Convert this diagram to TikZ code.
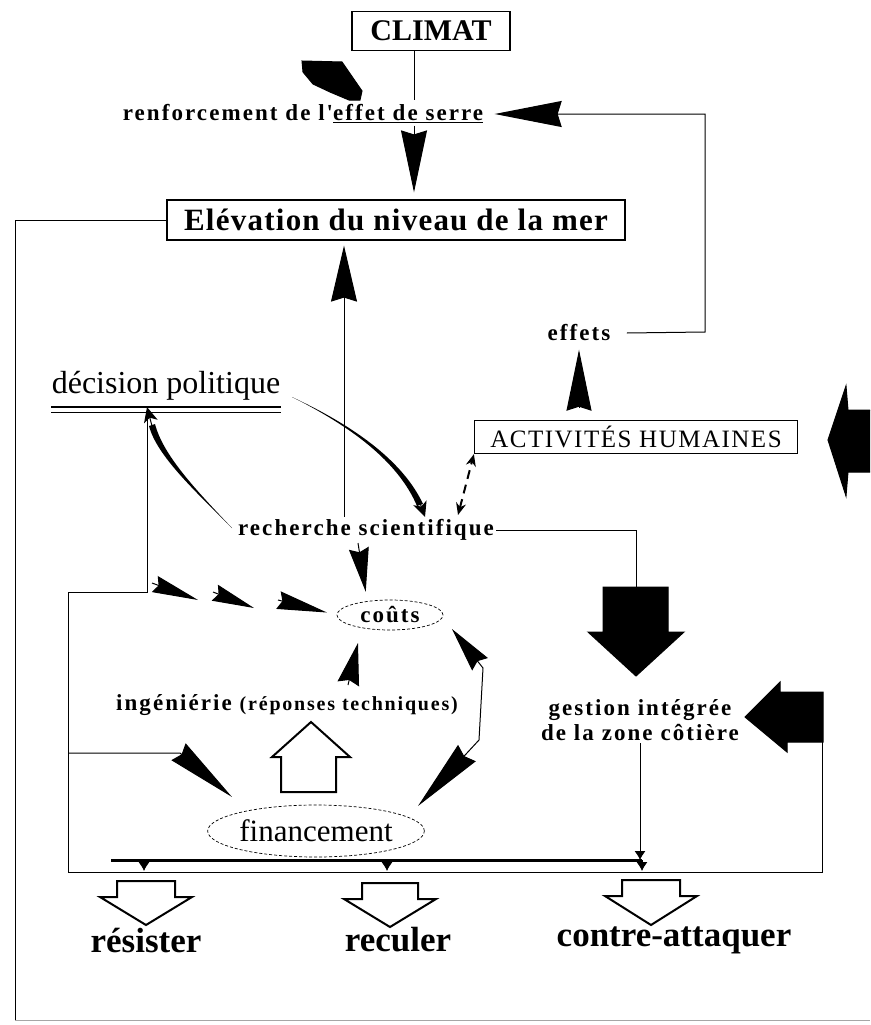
\documentclass[tikz,border=0pt]{standalone}
\usepackage{fontspec}
\setmainfont{Liberation Serif}
\newfontfamily\slabfont{Liberation Serif}[LetterSpace=9]
\newfontfamily\capsfont{Liberation Serif}[LetterSpace=6]
\usetikzlibrary{arrows.meta,shapes.geometric}

\tikzset{
  box/.style={draw,line width=1.2pt,inner sep=0pt},
  slab/.style={font=\slabfont\bfseries\fontsize{23}{25}\selectfont,inner sep=2pt},
  issue/.style={font=\bfseries\fontsize{35}{37}\selectfont,inner sep=0pt},
  oval/.style={draw,ellipse,line width=0.7pt,dash pattern=on 3pt off 2pt,inner sep=0pt},
  spike/.style 2 args={-{Stealth[length=#1,width=#2,inset=4pt]}},
}

\begin{document}
\begin{tikzpicture}[x=1pt,y=-1pt,line width=1pt]

\useasboundingbox (0,0) rectangle (870,1025);
\fill [white] (0,0) rectangle (870,1025);

% nodes
\node [box,minimum width=158pt,minimum height=39pt,font=\bfseries\fontsize{30}{32}\selectfont] (climat) at (431,31) {CLIMAT};
\node [slab] (serre) at (303,114) {renforcement de l'\underline{effet de serre}};
\node [box,minimum width=458pt,minimum height=40pt,font=\bfseries\fontsize{31}{33}\selectfont\addfontfeature{LetterSpace=4}] (elev) at (396,220) {Elévation du niveau de la mer};
\node [slab] (effets) at (579,333) {effets};
\node [box,minimum width=323pt,minimum height=33pt,font=\capsfont\fontsize{25}{27}\selectfont] (activ) at (636,437) {ACTIVITÉS HUMAINES};
\node [font=\fontsize{32}{34}\selectfont,inner sep=0pt] (decision) at (166,386) {décision politique};
\node [slab] (recherche) at (366,530) {recherche scientifique};
\node [oval,slab,minimum width=106pt,minimum height=30pt,inner sep=0pt] (couts) at (390,615) {coûts};
\node [slab] (ingenierie) at (287,705) {ingéniérie {\fontsize{20}{22}\selectfont(réponses techniques)}};
\node [slab,align=center] (gestion) at (640,720) {gestion intégrée\\de la zone côtière};
\node [oval,minimum width=186pt,minimum height=52pt,font=\fontsize{31}{33}\selectfont] (fin) at (316,831) {financement};
\node [issue] (resister) at (146,940) {résister};
\node [issue] (reculer) at (398,940) {reculer};
\node [issue] (contre) at (674,940) {contre-attaquer};

% free ends
\coordinate (top) at (414,100);
\coordinate (ne) at (705,332);
\coordinate (rx) at (344,0);
\coordinate (dv) at (147,0);
\coordinate (bar) at (0,860);
\coordinate (coutR) at (452,629);
\coordinate (finL) at (232,797);
\coordinate (finR) at (418,806);

% top
\draw (climat.south -| top) -- (top);
\draw [fill=black] (302,61) -- (342,62) -- (362,91) -- (360,100) -- (349,100) -- (330,92) -- (313,84) -- (303,72) -- cycle;
\draw [spike={62pt}{26pt},shorten >=7pt] (serre.south -| top) -- (elev.north -| top);
\draw [spike={67pt}{26pt},shorten >=9pt] ([xshift=14pt]effets.east) -- (ne) |- (serre.east);
\draw [spike={61pt}{25pt},shorten <=12pt,shorten >=6pt] (activ.north -| effets) -- (effets.south);
\draw [fill=black] (870,410) -- (848,410) -- (846,386) -- (828,440) -- (846,496) -- (848,472) -- (870,472);

% sea level
\draw (elev.west) -| (15,1020);
\draw [black!35] (15,1020) -- (870,1020);
\draw [spike={56pt}{26pt},shorten >=5pt] (recherche.north -| rx) -- (elev.south -| rx);

% politics and research
\draw [line width=2.5pt] ([yshift=-6pt]decision.south west) -- ([yshift=-6pt]decision.south east);
\draw [line width=1pt] ([yshift=-11pt]decision.south west) -- ([yshift=-11pt]decision.south east);
\fill (292,397) .. controls (350,424) and (402,459) .. (423,504) -- (417,506) .. controls (398,461) and (350,426) .. (292,397);
\draw [spike={15pt}{14pt}] (420,503) -- (recherche.north -| 425,0);
\fill (232,528) .. controls (195,489) and (163,455) .. (155,424) -- (149,426) .. controls (157,456) and (195,491) .. (232,528);
\draw [spike={15pt}{14pt}] (152,426) -- ([yshift=-6pt]decision.south -| dv);
\draw [line width=2pt,dash pattern=on 9pt off 6pt,{Stealth[length=12pt,width=10pt]}-{Stealth[length=12pt,width=10pt]}] (458,515) -- (activ.south west);

% costs
\draw [spike={46pt}{17pt}] (152,583) -- (198,600);
\draw [spike={42pt}{17pt}] (213,592) -- (254,608);
\draw [spike={50pt}{18pt},shorten >=10pt] (278,600) -- (couts.west);
\draw [spike={44pt}{20pt},shorten >=8pt] ([xshift=-8pt]recherche.south) -- ([xshift=-23pt]couts.north);
\draw [spike={42pt}{22pt},shorten >=13pt] (348,685) -- ([xshift=-29pt]couts.south);
\draw [{Stealth[length=45pt,width=20pt,inset=4pt]}-{Stealth[length=72pt,width=24pt,inset=4pt]}] (coutR) -- (483,668) -- (479,740) -- (finR);

% management
\draw (recherche.east) -| (636,587);
\draw [fill=black] (603,587) -- (668,587) -- (668,632) -- (684,632) -- (636,676) -- (588,632) -- (603,632) -- cycle;
\draw [fill=black] (823,692) -- (823,742) -- (787,742) -- (787,752) -- (745,717) -- (780,682) -- (780,692) -- cycle;

% loop round the responses
\draw ([yshift=-11pt]decision.south -| dv) -- (147,592) -- (68,592) -- (68,872) -- (822,872) -- (822,742);
\draw [spike={70pt}{22pt}] (68,753) -- (180,753) -- (finL);
\draw [fill=white,line width=2pt] (281,792) -- (281,757) -- (272,757) -- (311,722) -- (350,757) -- (336,757) -- (336,792) -- cycle;

% bar and responses
\draw [line width=3pt] (111,860) -- (642,860);
\draw [-{Latex[length=9pt,width=11pt]}] (gestion.south) -- (gestion.south |- bar);
\draw [-{Latex[length=9pt,width=11pt]}] (144,860) -- (144,871);
\draw [-{Latex[length=9pt,width=11pt]}] (387,860) -- (387,871);
\draw [-{Latex[length=9pt,width=11pt]}] (642,860) -- (642,871);

\draw [fill=white,line width=2pt,shift={(146,0)}] (-29,881) -- (29,881) -- (29,897) -- (46,897) -- (0,925) -- (-46,897) -- (-29,897) -- cycle;
\draw [fill=white,line width=2pt,shift={(390,0)}] (-28,883) -- (28,883) -- (28,899) -- (46,899) -- (0,927) -- (-46,899) -- (-28,899) -- cycle;
\draw [fill=white,line width=2pt,shift={(651,0)}] (-29,880) -- (29,880) -- (29,896) -- (46,896) -- (0,925) -- (-46,896) -- (-29,896) -- cycle;

\end{tikzpicture}
\end{document}
